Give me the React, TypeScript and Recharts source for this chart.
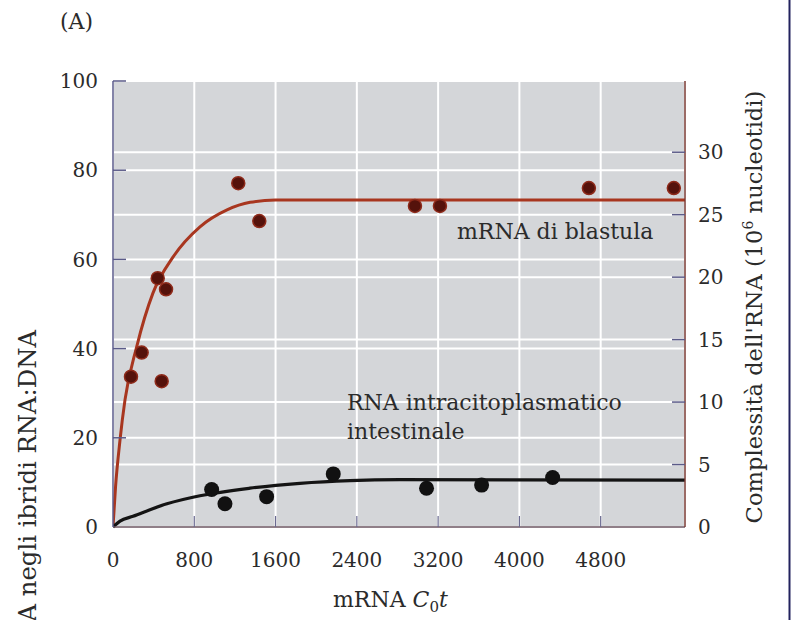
import React from "react";
import {
  ComposedChart,
  Line,
  Scatter,
  XAxis,
  YAxis,
  CartesianGrid,
} from "recharts";

// assi
const xTicks = [0, 800, 1600, 2400, 3200, 4000, 4800];
const leftTicks = [0, 20, 40, 60, 80, 100];
const rightTicks = [0, 5, 10, 15, 20, 25, 30];
const xMax = 5630;
const rightMax = 35.7;

// curva mRNA di blastula
const blastulaCurve = [
  { x: 0, y: 0 },
  { x: 25, y: 9 },
  { x: 69, y: 19.5 },
  { x: 118, y: 28.5 },
  { x: 233, y: 40.4 },
  { x: 394, y: 52.5 },
  { x: 590, y: 60.5 },
  { x: 856, y: 67.3 },
  { x: 1122, y: 71.1 },
  { x: 1350, y: 72.8 },
  { x: 1600, y: 73.3 },
  { x: 5630, y: 73.3 },
];

// curva RNA intestinale
const intestCurve = [
  { x: 0, y: 0 },
  { x: 69, y: 1.3 },
  { x: 197, y: 2.4 },
  { x: 531, y: 5.2 },
  { x: 856, y: 7.0 },
  { x: 1348, y: 8.7 },
  { x: 1840, y: 9.8 },
  { x: 2332, y: 10.4 },
  { x: 2824, y: 10.6 },
  { x: 5630, y: 10.5 },
];

const blastulaPts = [
  { x: 177, y: 33.7 },
  { x: 282, y: 39.1 },
  { x: 440, y: 55.8 },
  { x: 479, y: 32.7 },
  { x: 522, y: 53.3 },
  { x: 1233, y: 77.1 },
  { x: 1440, y: 68.6 },
  { x: 2972, y: 72.0 },
  { x: 3218, y: 72.0 },
  { x: 4684, y: 76.0 },
  { x: 5520, y: 76.0 },
];

const intestPts = [
  { x: 971, y: 8.4 },
  { x: 1102, y: 5.2 },
  { x: 1512, y: 6.8 },
  { x: 2168, y: 11.9 },
  { x: 3086, y: 8.7 },
  { x: 3628, y: 9.4 },
  { x: 4327, y: 11.1 },
];

const W = 794;
const H = 620;
const MARGIN = { top: 81, right: 40, bottom: 33, left: 40 };
const X_AXIS_H = 60;
const LEFT_W = 73;
const RIGHT_W = 69;
const PLOT_H = H - MARGIN.top - MARGIN.bottom - X_AXIS_H;
const PLOT_X0 = MARGIN.left + LEFT_W;
const PLOT_X1 = W - MARGIN.right - RIGHT_W;

// righe bianche in corrispondenza delle tacche di destra
const rightRows = rightTicks.slice(1).map((v) => MARGIN.top + PLOT_H * (1 - v / rightMax));

const FONT = "'DejaVu Serif', 'Liberation Serif', serif";
const TEXT = "#2b2b2b";

const LeftTick = (props: any) => {
  const { x, y, payload } = props;
  const ax = x + 15;
  return (
    <g>
      {payload.value !== 0 && (
        <line x1={ax} x2={ax + 13} y1={y} y2={y} stroke="#5b5b88" strokeWidth={1.5} />
      )}
      <text x={x} y={y} dy="0.36em" textAnchor="end" fontFamily={FONT} fontSize={20} fill={TEXT}>
        {payload.value}
      </text>
    </g>
  );
};

const RightTick = (props: any) => {
  const { x, y, payload } = props;
  const ax = x - 13;
  return (
    <g>
      {payload.value !== 0 && (
        <line x1={ax} x2={ax - 13} y1={y} y2={y} stroke="#5b5b88" strokeWidth={1.5} />
      )}
      <text x={x} y={y} dy="0.36em" textAnchor="start" fontFamily={FONT} fontSize={20} fill={TEXT}>
        {payload.value}
      </text>
    </g>
  );
};

const BottomTick = (props: any) => {
  const { x, y, payload } = props;
  const ay = y - 10;
  return (
    <g>
      {payload.value !== 0 && (
        <line x1={x} x2={x} y1={ay} y2={ay - 11} stroke="#6a6a90" strokeWidth={1.2} />
      )}
      <text x={x} y={ay + 40} textAnchor="middle" fontFamily={FONT} fontSize={20} fill={TEXT}>
        {payload.value}
      </text>
    </g>
  );
};

const RedDot = (props: any) => (
  <circle cx={props.cx} cy={props.cy} r={6.5} fill="#55120b" stroke="#8e2a1a" strokeWidth={1.5} />
);

const BlackDot = (props: any) => (
  <circle cx={props.cx} cy={props.cy} r={7.5} fill="#111111" />
);

export default function App() {
  return (
    <div style={{ position: "absolute", left: 0, top: 0, width: W, height: H, overflow: "hidden", background: "#fff" }}>
      <ComposedChart width={W} height={H} margin={MARGIN}>
        <CartesianGrid yAxisId="left" fill="#d4d6d9" stroke="#ffffff" strokeWidth={2} />
        <g>
          {rightRows.map((y, i) => (
            <line key={i} x1={PLOT_X0} x2={PLOT_X1} y1={y} y2={y} stroke="#ffffff" strokeWidth={2} />
          ))}
        </g>
        <XAxis
          type="number"
          dataKey="x"
          domain={[0, xMax]}
          ticks={xTicks}
          allowDataOverflow
          height={X_AXIS_H}
          tickSize={0}
          tickMargin={10}
          tick={<BottomTick />}
          axisLine={{ stroke: "#6b5560", strokeWidth: 1.5 }}
          tickLine={false}
        />
        <YAxis
          yAxisId="left"
          type="number"
          domain={[0, 100]}
          ticks={leftTicks}
          width={LEFT_W}
          tickSize={0}
          tickMargin={15}
          tick={<LeftTick />}
          axisLine={{ stroke: "#5b5b8b", strokeWidth: 1.5 }}
          tickLine={false}
        />
        <YAxis
          yAxisId="right"
          orientation="right"
          type="number"
          domain={[0, rightMax]}
          ticks={rightTicks}
          allowDataOverflow
          width={RIGHT_W}
          tickSize={0}
          tickMargin={13}
          tick={<RightTick />}
          axisLine={{ stroke: "#7a3a33", strokeWidth: 1.5 }}
          tickLine={false}
        />
        <Line
          yAxisId="left"
          data={blastulaCurve}
          dataKey="y"
          type="monotone"
          stroke="#a8361f"
          strokeWidth={3}
          dot={false}
          isAnimationActive={false}
        />
        <Line
          yAxisId="left"
          data={intestCurve}
          dataKey="y"
          type="monotone"
          stroke="#141414"
          strokeWidth={3.2}
          dot={false}
          isAnimationActive={false}
        />
        <Scatter yAxisId="left" data={blastulaPts} dataKey="y" shape={<RedDot />} isAnimationActive={false} />
        <Scatter yAxisId="left" data={intestPts} dataKey="y" shape={<BlackDot />} isAnimationActive={false} />
        <g fontFamily={FONT} fill={TEXT}>
          <text x={60} y={29} fontSize={22}>(A)</text>
          <text x={457} y={239} fontSize={22}>mRNA di blastula</text>
          <text x={347} y={410} fontSize={22}>RNA intracitoplasmatico</text>
          <text x={347} y={439} fontSize={22}>intestinale</text>
          <text x={333} y={607} fontSize={22}>
            mRNA <tspan fontStyle="italic">C</tspan>
            <tspan fontSize={15} dy={5}>0</tspan>
            <tspan fontStyle="italic" dy={-5}>t</tspan>
          </text>
          <text transform="translate(36,330) rotate(-90)" textAnchor="end" fontSize={24.3}>
            % di RNA negli ibridi RNA:DNA
          </text>
          <text transform="translate(762,307) rotate(-90)" textAnchor="middle" fontSize={22.6}>
            Complessità dell'RNA (10<tspan fontSize={14} dy={-9}>6</tspan>
            <tspan dy={9}> nucleotidi)</tspan>
          </text>
        </g>
        <line x1={789.5} x2={789.5} y1={0} y2={H} stroke="#22225e" strokeWidth={2} />
      </ComposedChart>
    </div>
  );
}
